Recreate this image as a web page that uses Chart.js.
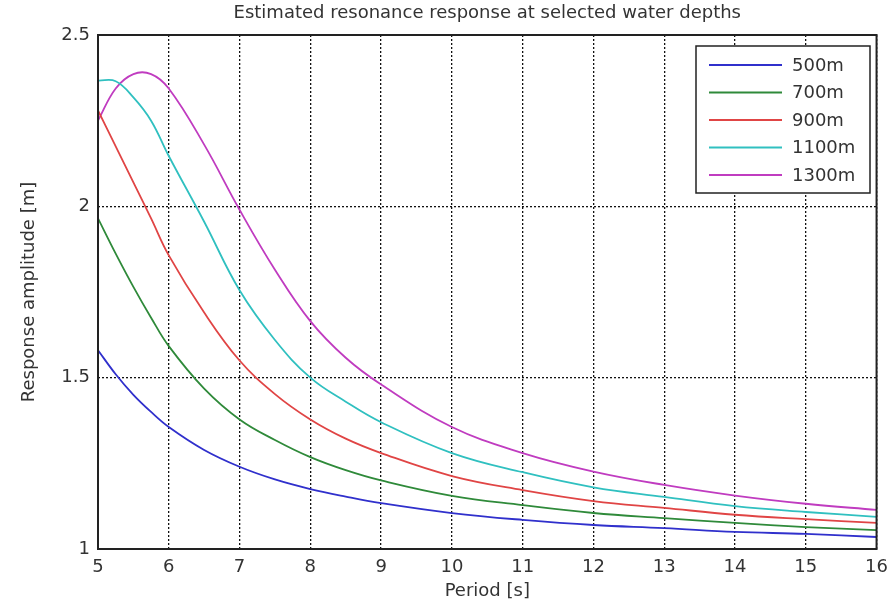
<!DOCTYPE html>
<html>
<head>
<meta charset="utf-8">
<script src="https://cdn.jsdelivr.net/npm/chart.js@4"></script>
<style>
  html, body { margin: 0; padding: 0; background: #fff; }
  #wrap { width: 896px; height: 605px; }
</style>
</head>
<body>
<div id="wrap"><canvas id="chart" width="896" height="605"></canvas></div>
<script>
// Period [s]
const periods = [5, 5.25, 5.5, 5.75, 6, 6.5, 7, 7.5, 8, 8.5, 9, 10, 11, 12, 13, 14, 15, 16];

// Response amplitude [m] for each water depth
const depth500 = [1.58, 1.51, 1.45, 1.40, 1.356, 1.289, 1.24, 1.203, 1.175, 1.153, 1.134, 1.105, 1.085, 1.07, 1.061, 1.05, 1.044, 1.035];
const depth700 = [1.965, 1.862, 1.765, 1.675, 1.592, 1.468, 1.378, 1.318, 1.268, 1.23, 1.2, 1.155, 1.128, 1.105, 1.09, 1.076, 1.064, 1.055];
const depth900 = [2.28, 2.175, 2.07, 1.965, 1.857, 1.69, 1.55, 1.452, 1.378, 1.322, 1.28, 1.213, 1.172, 1.14, 1.12, 1.1, 1.087, 1.076];
const depth1100 = [2.367, 2.365, 2.318, 2.25, 2.147, 1.955, 1.755, 1.61, 1.5, 1.43, 1.37, 1.28, 1.224, 1.18, 1.152, 1.125, 1.108, 1.094];
const depth1300 = [2.25, 2.344, 2.386, 2.386, 2.344, 2.18, 1.99, 1.815, 1.665, 1.558, 1.48, 1.356, 1.28, 1.226, 1.187, 1.156, 1.132, 1.114];

const seriesNames = ["500m", "700m", "900m", "1100m", "1300m"];
const seriesColors = ["#3030cc", "#2f8a3a", "#e04545", "#30c0c0", "#c03cc0"];

// axis ticks
const xTicks = [5, 6, 7, 8, 9, 10, 11, 12, 13, 14, 15, 16];
const yTicks = [1, 1.5, 2, 2.5];
const yTickLabels = ["1", "1.5", "2", "2.5"];

const titleText = "Estimated resonance response at selected water depths";
const FONT = "'DejaVu Sans', sans-serif";

function toPoints(values) {
    return periods.map((p, i) => ({ x: p, y: values[i] }));
}

const allSeries = [depth500, depth700, depth900, depth1100, depth1300];

// Frame, title and legend drawn like the MATLAB figure
const matlabDecor = {
    id: "matlabDecor",
    afterDraw(chart) {
        const ctx = chart.ctx;
        const a = chart.chartArea;
        ctx.save();

        // axes box
        ctx.strokeStyle = "#222";
        ctx.lineWidth = 2;
        ctx.strokeRect(a.left, a.top, a.right - a.left, a.bottom - a.top);

        // title
        ctx.fillStyle = "#333";
        ctx.font = "18px " + FONT;
        ctx.textAlign = "center";
        ctx.textBaseline = "middle";
        ctx.fillText(titleText, (a.left + a.right) / 2, 13);

        // legend
        const bx = 696, by = 46, bw = 174, bh = 147;
        ctx.fillStyle = "#fff";
        ctx.fillRect(bx, by, bw, bh);
        ctx.strokeStyle = "#222";
        ctx.lineWidth = 1.5;
        ctx.strokeRect(bx, by, bw, bh);
        ctx.font = "18px " + FONT;
        ctx.textAlign = "left";
        chart.data.datasets.forEach((ds, i) => {
            const y = by + 19 + i * 27.5;
            ctx.strokeStyle = ds.borderColor;
            ctx.lineWidth = 2;
            ctx.beginPath();
            ctx.moveTo(709, y);
            ctx.lineTo(782, y);
            ctx.stroke();
            ctx.fillStyle = "#333";
            ctx.fillText(ds.label, 792, y + 1);
        });
        ctx.restore();
    }
};

const ctx = document.getElementById("chart").getContext("2d");

new Chart(ctx, {
    type: "line",
    data: {
        datasets: seriesNames.map((name, i) => ({
            label: name,
            data: toPoints(allSeries[i]),
            borderColor: seriesColors[i],
            borderWidth: 1.8,
            pointRadius: 0,
            tension: 0.4,
            fill: false
        }))
    },
    options: {
        responsive: false,
        animation: false,
        layout: { padding: { top: 35, right: 16, left: 0, bottom: 0 } },
        plugins: {
            legend: { display: false },
            title: { display: false },
            tooltip: { enabled: false }
        },
        scales: {
            x: {
                type: "linear",
                min: 5,
                max: 16,
                afterBuildTicks: s => { s.ticks = xTicks.map(v => ({ value: v })); },
                afterFit: s => { s.height = 56; },
                ticks: {
                    color: "#333",
                    font: { family: FONT, size: 18 },
                    padding: 8,
                    maxRotation: 0,
                    callback: v => String(v)
                },
                grid: {
                    color: "#111",
                    lineWidth: 1.3,
                    drawTicks: false
                },
                border: { display: false, dash: [2, 2] },
                title: {
                    display: true,
                    text: "Period [s]",
                    color: "#333",
                    font: { family: FONT, size: 18 },
                    padding: { top: 2, bottom: 3 }
                }
            },
            y: {
                type: "linear",
                min: 1,
                max: 2.5,
                afterBuildTicks: s => { s.ticks = yTicks.map(v => ({ value: v })); },
                afterFit: s => { s.width = 98; },
                ticks: {
                    color: "#333",
                    font: { family: FONT, size: 18 },
                    padding: 8,
                    callback: v => yTickLabels[yTicks.indexOf(v)]
                },
                grid: {
                    color: "#111",
                    lineWidth: 1.3,
                    drawTicks: false
                },
                border: { display: false, dash: [2, 2] },
                title: {
                    display: true,
                    text: "Response amplitude [m]",
                    color: "#333",
                    font: { family: FONT, size: 18 },
                    padding: { top: 19, bottom: 0 }
                }
            }
        }
    },
    plugins: [matlabDecor]
});
</script>
</body>
</html>
